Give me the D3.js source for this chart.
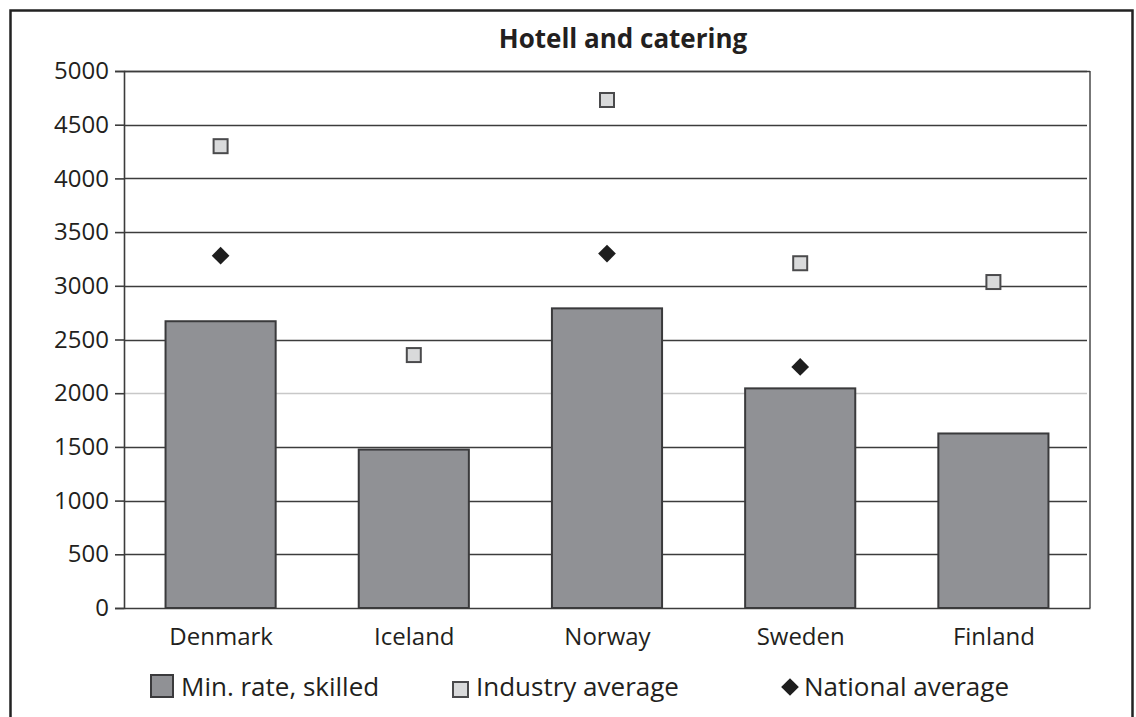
<!DOCTYPE html>
<html>
<head>
<meta charset="utf-8">
<script src="https://cdn.jsdelivr.net/npm/d3@7"></script>
<style>
  html, body { margin: 0; padding: 0; background: #fff; }
  svg { display: block; }
  text { font-family: "Open Sans", "DejaVu Sans", sans-serif; fill: #231f20; }
</style>
</head>
<body>
<svg id="chart" width="1136" height="717"></svg>
<script>
// Monthly pay, hotel and catering sector
const countries = ["Denmark", "Iceland", "Norway", "Sweden", "Finland"];
const minRateSkilled = [2670, 1475, 2790, 2045, 1625];
const industryAverage = [4300, 2355, 4730, 3210, 3035];
const nationalAverage = [3280, null, 3300, 2245, null];
const yTicks = [0, 500, 1000, 1500, 2000, 2500, 3000, 3500, 4000, 4500, 5000];
const chartTitle = "Hotell and catering";
const legendLabels = ["Min. rate, skilled", "Industry average", "National average"];

const svg = d3.select("#chart");
const W = 1136, H = 717;
const m = { left: 124, right: 1090, top: 71, bottom: 608 };

const barFill = "#909195";
const barStroke = "#3a3a3c";
const squareFill = "#d9dadb";
const squareStroke = "#4a4a4c";
const diamondFill = "#1e1e1e";
const labelSize = 24;

// outer frame
svg.append("path")
  .attr("d", `M10.5,${H + 5} V10.5 H1132.5 V${H + 5}`)
  .attr("fill", "none")
  .attr("stroke", "#222")
  .attr("stroke-width", 2.5);

const x = d3.scaleBand().domain(countries).range([m.left, m.right]).paddingInner(0.43).paddingOuter(0.215);
const xc = d3.scalePoint().domain(countries).range([m.left, m.right]).padding(0.5);
const y = d3.scaleLinear().domain([0, 5000]).range([m.bottom, m.top]);

// gridlines
svg.append("g")
  .selectAll("line")
  .data(yTicks.filter(t => t > 0))
  .join("line")
  .attr("x1", m.left).attr("x2", m.right - 3)
  .attr("y1", d => Math.round(y(d)) + 0.5).attr("y2", d => Math.round(y(d)) + 0.5)
  .attr("stroke", d => d === 2000 ? "#c8c8c8" : "#3c3c3c")
  .attr("stroke-width", 1.6);

// right frame of plot area
svg.append("line")
  .attr("x1", m.right).attr("x2", m.right)
  .attr("y1", m.top).attr("y2", m.bottom)
  .attr("stroke", "#555").attr("stroke-width", 1.6);
svg.append("line")
  .attr("x1", m.left).attr("x2", m.right)
  .attr("y1", Math.round(y(5000)) + 0.5).attr("y2", Math.round(y(5000)) + 0.5)
  .attr("stroke", "#3c3c3c").attr("stroke-width", 1.6);

// bars
svg.append("g")
  .selectAll("rect")
  .data(countries)
  .join("rect")
  .attr("x", (d) => x(d))
  .attr("width", x.bandwidth())
  .attr("y", (d, i) => y(minRateSkilled[i]))
  .attr("height", (d, i) => y(0) - y(minRateSkilled[i]))
  .attr("fill", barFill)
  .attr("stroke", barStroke)
  .attr("stroke-width", 2);

// y axis
const yAxis = d3.axisLeft(y).tickValues(yTicks).tickSize(9).tickPadding(6).tickFormat(d3.format("d"));
const gy = svg.append("g").attr("transform", `translate(${m.left},0)`).call(yAxis);
gy.select(".domain").attr("stroke", "#3c3c3c").attr("stroke-width", 1.6);
gy.selectAll(".tick line").attr("stroke", "#3c3c3c").attr("stroke-width", 1.6);
gy.selectAll(".tick text")
  .attr("font-size", labelSize)
  .attr("font-family", "'Open Sans', sans-serif")
  .attr("fill", "#231f20");

// x axis baseline and labels
const xAxis = d3.axisBottom(xc).tickSize(0).tickPadding(20);
const gx = svg.append("g").attr("transform", `translate(0,${m.bottom})`).call(xAxis);
gx.select(".domain").attr("stroke", "#3c3c3c").attr("stroke-width", 1.6);
gx.selectAll(".tick text")
  .attr("font-size", labelSize)
  .attr("font-family", "'Open Sans', sans-serif")
  .attr("fill", "#231f20");

// industry average markers
svg.append("g")
  .selectAll("rect")
  .data(countries.filter((d, i) => industryAverage[i] != null))
  .join("rect")
  .attr("x", d => xc(d) - 7)
  .attr("y", d => y(industryAverage[countries.indexOf(d)]) - 7)
  .attr("width", 14).attr("height", 14)
  .attr("fill", squareFill)
  .attr("stroke", squareStroke)
  .attr("stroke-width", 2);

// national average markers
const diamond = d3.symbol().type(d3.symbolDiamond2).size(200);
svg.append("g")
  .selectAll("path")
  .data(countries.filter((d, i) => nationalAverage[i] != null))
  .join("path")
  .attr("d", diamond)
  .attr("transform", d => `translate(${xc(d)},${y(nationalAverage[countries.indexOf(d)])})`)
  .attr("fill", diamondFill);

// title
svg.append("text")
  .attr("x", 623).attr("y", 48)
  .attr("text-anchor", "middle")
  .attr("font-size", 26)
  .attr("font-weight", "bold")
  .text(chartTitle);

// legend
const lg = svg.append("g");
lg.append("rect").attr("x", 151).attr("y", 675).attr("width", 22).attr("height", 22)
  .attr("fill", barFill).attr("stroke", barStroke).attr("stroke-width", 2);
lg.append("text").attr("x", 181).attr("y", 696).attr("font-size", 26).text(legendLabels[0]);

lg.append("rect").attr("x", 453).attr("y", 682).attr("width", 15).attr("height", 15)
  .attr("fill", squareFill).attr("stroke", squareStroke).attr("stroke-width", 2);
lg.append("text").attr("x", 476).attr("y", 696).attr("font-size", 26).text(legendLabels[1]);

lg.append("path").attr("d", d3.symbol().type(d3.symbolDiamond2).size(200))
  .attr("transform", "translate(790,687)").attr("fill", diamondFill);
lg.append("text").attr("x", 804).attr("y", 696).attr("font-size", 26).text(legendLabels[2]);
</script>
</body>
</html>
